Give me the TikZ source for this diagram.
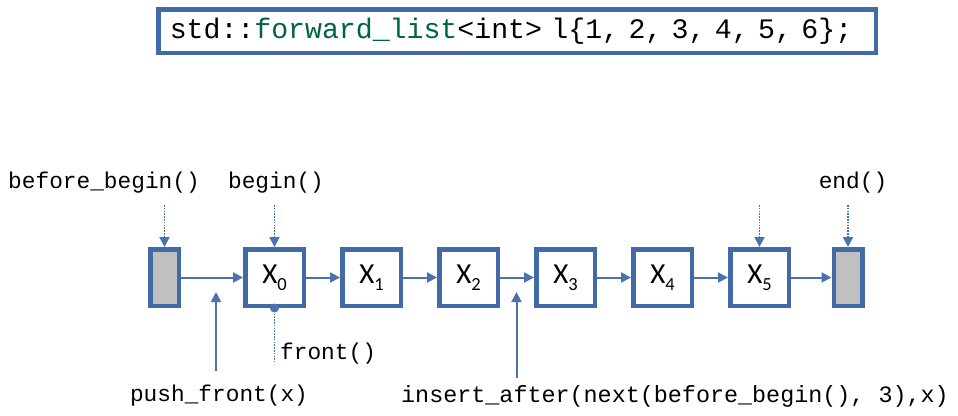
\documentclass[tikz,border=0pt]{standalone}
\usepackage{fontspec}
\setmainfont{Carlito}
\newfontfamily\codefont{Liberation Mono}
\usetikzlibrary{arrows.meta}
\definecolor{boxblue}{RGB}{65,106,166}
\definecolor{arrblue}{RGB}{74,115,173}
\definecolor{codegreen}{RGB}{0,98,70}
\definecolor{sentgray}{RGB}{192,192,192}
\newcommand{\xsub}[1]{X\raisebox{-7pt}{\fontsize{18.5}{19}\selectfont #1}}
\tikzset{
  elem/.style={draw=boxblue, line width=4.5pt, fill=white, minimum width=58.5pt, minimum height=56.5pt, inner sep=0pt, font=\fontsize{29}{31}\selectfont},
  sentinel/.style={draw=boxblue, line width=4.5pt, fill=sentgray, minimum width=28.5pt, minimum height=56.5pt, inner sep=0pt},
  link/.style={draw=arrblue, line width=2pt, -{Triangle[length=10pt,width=10pt]}},
  pointer/.style={draw=arrblue, line width=1.8pt, dash pattern=on 1.6pt off 1.2pt, -{Triangle[length=10pt,width=10pt]}},
  codelabel/.style={font=\codefont\fontsize{22.8}{26}\selectfont, inner sep=0pt, text=black},
}
\begin{document}
\begin{tikzpicture}[x=1pt,y=-1pt]
\useasboundingbox (0,0) rectangle (958,415);
% declaration box
\node[draw=boxblue, line width=4.5pt, inner xsep=11.5pt, inner ysep=0pt, minimum height=43.5pt, text width=694.5pt, align=left,
      font=\codefont\fontsize{28.2}{30}\selectfont] (decl) at (517,31)
  {std::\textcolor{codegreen}{forward\_list}<int> l\{1, 2, 3, 4, 5, 6\};};
% list nodes
\node[sentinel] (bb) at (164.5,277.5) {};
\node[elem] (x0) at (274.5,277.5) {\xsub{0}};
\node[elem] (x1) at (371.5,277.5) {\xsub{1}};
\node[elem] (x2) at (468.5,277.5) {\xsub{2}};
\node[elem] (x3) at (565.5,277.5) {\xsub{3}};
\node[elem] (x4) at (662.5,277.5) {\xsub{4}};
\node[elem] (x5) at (759.5,277.5) {\xsub{5}};
\node[sentinel] (en) at (848,277.5) {};
% links
\draw[link] (bb) -- (x0);
\draw[link] (x0) -- (x1);
\draw[link] (x1) -- (x2);
\draw[link] (x2) -- (x3);
\draw[link] (x3) -- (x4);
\draw[link] (x4) -- (x5);
\draw[link] (x5) -- (en);
% top labels
\node[codelabel] (lbb) at (104,183) {before\_begin()};
\node[codelabel] (lbeg) at (276,183) {begin()};
\node[codelabel] (lend) at (853,183) {end()};
\coordinate (pbb) at (164.5,205);
\coordinate (pbeg) at (274.5,205);
\coordinate (px5) at (759.5,205);
\coordinate (pend) at (848,205);
\draw[pointer] (pbb) -- (bb.north);
\draw[pointer] (pbeg) -- (x0.north);
\draw[pointer] (px5) -- (x5.north);
\draw[pointer] (pend) -- (en.north);
% front
\fill[arrblue] (x0.south) circle (4.5pt);
\coordinate (fend) at (274.5,362);
\draw[arrblue, line width=1.8pt, dash pattern=on 1.6pt off 1.2pt] (x0.south) -- (fend);
\node[codelabel, anchor=west] (lfront) at (280,354) {front()};
% push_front
\node[codelabel] (lpush) at (219,396) {push\_front(x)};
\coordinate (pushbot) at (216,371);
\coordinate (pushtop) at (216,292);
\draw[link] (pushbot) -- (pushtop);
% insert_after
\node[codelabel, font=\codefont\fontsize{23.4}{26}\selectfont] (lins) at (675,396) {insert\_after(next(before\_begin(), 3),x)};
\coordinate (insbot) at (516.5,378);
\coordinate (instop) at (516.5,292);
\draw[link] (insbot) -- (instop);
\end{tikzpicture}
\end{document}
